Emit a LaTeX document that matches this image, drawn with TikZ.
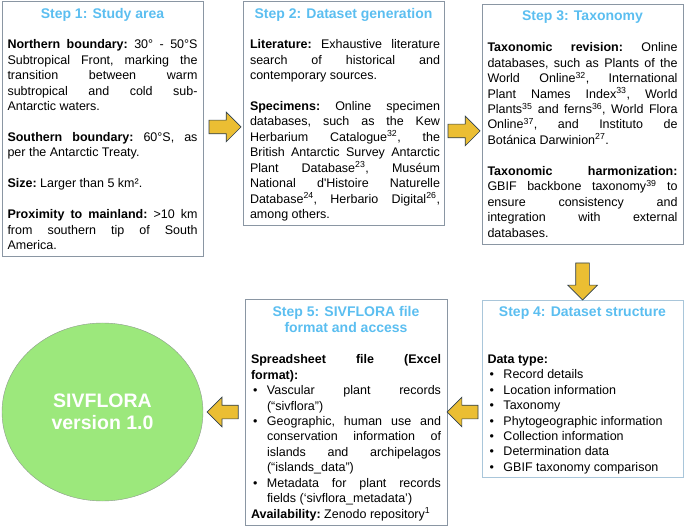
\documentclass[tikz,border=0pt]{standalone}
\usepackage{fontspec}
\setmainfont{Liberation Sans}
\usetikzlibrary{positioning,shapes.geometric,shapes.arrows}

\definecolor{stepblue}{HTML}{5BBEF0}
\definecolor{boxgray}{HTML}{8A96A3}
\definecolor{boxpale}{HTML}{A9C6DA}
\definecolor{leafgreen}{HTML}{9CE87C}
\definecolor{leafedge}{HTML}{8C9A8C}
\definecolor{arrowgold}{HTML}{EBBE33}
\definecolor{arrowedge}{HTML}{2E3F4F}

\newcommand\bodyfont{\fontsize{12.5}{15.45}\selectfont\frenchspacing}
\newcommand\gap{\par\vspace{15.45pt}}
\newcommand\itm{\par\hangindent=16pt\hangafter=1\noindent\makebox[16pt][l]{\hspace{2pt}\textbullet}}
\newcommand\sups[1]{\textsuperscript{#1}}

\tikzset{
	stepbox/.style={draw=boxgray, line width=0.8pt, minimum width=201pt, inner sep=0pt, outer sep=0pt},
	steptitle/.style={font=\fontsize{14}{16}\selectfont\bfseries, text=stepblue, inner sep=0pt, align=center},
	stepbody/.style={font=\bodyfont, text width=190pt, align=justify, inner sep=0pt},
	blockarrow/.style={single arrow, draw=arrowedge, fill=arrowgold, line width=0.7pt, minimum height=32pt, inner xsep=0pt, inner ysep=6.5pt, single arrow head extend=8pt, outer sep=0pt}
}

\begin{document}
\begin{tikzpicture}[x=1pt, y=-1pt]
			\useasboundingbox (0,0) rectangle (685,526);
			\def\T{7pt}
			\def\B{38.4pt}
			\node [stepbox, minimum height=255pt] (box1) at (102.5,128.5) {};
			\node [stepbox, minimum height=224pt] (box2) at (343.5,113) {};
			\node [stepbox, minimum height=240pt] (box3) at (582.5,124) {};
			\node [stepbox, draw=boxpale, minimum height=177pt] (box4) at (582.5,388.5) {};
			\node [stepbox, minimum width=202pt, minimum height=226pt] (box5) at (346,412) {};
			\node [ellipse, draw=leafedge, fill=leafgreen, minimum width=201pt, minimum height=178pt, inner sep=0pt, text=white, font=\fontsize{19.5}{22.5}\selectfont\bfseries, align=center] (sivflora) at (102.5,412) {SIVFLORA\\version 1.0};

			\node [steptitle, below=\T of box1.north] (title1) {Step 1: Study area};
			\node [steptitle, below=\T of box2.north] (title2) {Step 2: Dataset generation};
			\node [steptitle, below=\T of box3.north] (title3) {Step 3: Taxonomy};
			\node [steptitle, below=\T of box4.north] (title4) {Step 4: Dataset structure};
			\node [steptitle, below=\T of box5.north] (title5) {Step 5: SIVFLORA file\\format and access};

			\node [stepbody, below=\B of box1.north] (body1) {\textbf{Northern boundary:} 30° - 50°S\linebreak
				Subtropical Front, marking the\linebreak
				transition between warm\linebreak
				subtropical and cold sub-\linebreak
				Antarctic waters.\gap
				\textbf{Southern boundary:} 60°S, as\linebreak
				per the Antarctic Treaty.\gap
				\textbf{Size:} Larger than 5 km².\gap
				\textbf{Proximity to mainland:} >10 km\linebreak
				from southern tip of South\linebreak
				America.};
			\node [stepbody, below=\B of box2.north, xshift=1.5pt] (body2) {\textbf{Literature:} Exhaustive literature\linebreak
				search of historical and\linebreak
				contemporary sources.\gap
				\textbf{Specimens:} Online specimen\linebreak
				databases, such as the Kew\linebreak
				Herbarium Catalogue\sups{32}, the\linebreak
				British Antarctic Survey Antarctic\linebreak
				Plant Database\sups{23}, Muséum\linebreak
				National d\textquotesingle Histoire Naturelle\linebreak
				Database\sups{24}, Herbario Digital\sups{26},\linebreak
				among others.};
			\node [stepbody, below=\B of box3.north] (body3) {\textbf{Taxonomic revision:} Online\linebreak
				databases, such as Plants of the\linebreak
				World Online\sups{32}, International\linebreak
				Plant Names Index\sups{33}, World\linebreak
				Plants\sups{35} and ferns\sups{36}, World Flora\linebreak
				Online\sups{37}, and Instituto de\linebreak
				Botánica Darwinion\sups{27}.\gap
				\textbf{Taxonomic harmonization:}\linebreak
				GBIF backbone taxonomy\sups{39} to\linebreak
				ensure consistency and\linebreak
				integration with external\linebreak
				databases.};
			\node [stepbody, below=54.4pt of box4.north] (body4) {\textbf{Data type:}
				\itm Record details
				\itm Location information
				\itm Taxonomy
				\itm Phytogeographic information
				\itm Collection information
				\itm Determination data
				\itm GBIF taxonomy comparison};
			\node [stepbody, below=55.4pt of box5.north] (body5) {\textbf{Spreadsheet file (Excel\linebreak
				format):}
				\itm Vascular plant records\linebreak
				(“sivflora”)
				\itm Geographic, human use and\linebreak
				conservation information of\linebreak
				islands and archipelagos\linebreak
				(“islands\_data”)
				\itm Metadata for plant records\linebreak
				fields (‘sivflora\_metadata’)\par
				\textbf{Availability:} Zenodo repository\sups{1}};

			\node [blockarrow, anchor=tail] (a12) at ([xshift=6pt, yshift=1.5pt]box1.east) {};
			\node [blockarrow, anchor=tip] (a23) at ([xshift=-2pt, yshift=-7pt]box3.west) {};
			\node [blockarrow, minimum height=37pt, inner xsep=6.5pt, inner ysep=0pt, shape border rotate=270, anchor=tip] (a34) at (box4.north) {};
			\node [blockarrow, minimum height=31pt, shape border rotate=180, anchor=tip] (a45) at (box5.east) {};
			\node [blockarrow, minimum height=31pt, shape border rotate=180, anchor=tip] (a5c) at ([xshift=4pt]sivflora.east) {};
		\end{tikzpicture}
\end{document}
